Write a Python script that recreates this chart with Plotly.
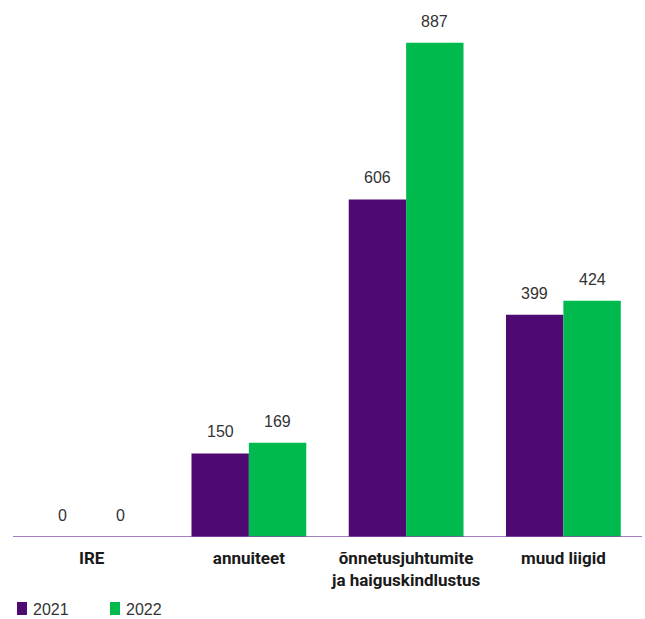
import plotly.graph_objects as go

categories = ["IRE", "annuiteet", "õnnetusjuhtumite<br>ja haiguskindlustus", "muud liigid"]
series_names = ["2021", "2022"]
values_2021 = [0, 150, 606, 399]
values_2022 = [0, 169, 887, 424]

colors = ["#4E0A72", "#00BA4D"]
W, H = 645, 619
L, R, T, B = 13, 3, 20, 82
pw, ph = W - L - R, H - T - B

fig = go.Figure()
bar_half = (pw / len(categories)) * (1 - 0.27) / 4  # half width of one bar in px
for i, (name, vals, col) in enumerate(zip(series_names, [values_2021, values_2022], colors)):
    fig.add_trace(go.Bar(
        x=categories, y=vals, name=name, marker_color=col, marker_line_width=0,
        showlegend=False,
    ))
    shift = -bar_half if i == 0 else bar_half
    for c, v in zip(categories, vals):
        fig.add_annotation(x=c, y=v, text=str(v), showarrow=False, xref="x", yref="y",
                           xshift=shift, yshift=11, yanchor="bottom", xanchor="center",
                           font=dict(family="Liberation Sans", size=16, color="#333333"))

# manual legend
def px_x(x):
    return (x - L) / pw

def px_y(y):
    return (H - B - y) / ph

legend_x = [17, 110]
for name, col, lx in zip(series_names, colors, legend_x):
    fig.add_shape(type="rect", xref="paper", yref="paper",
                  x0=px_x(lx), x1=px_x(lx + 10), y0=px_y(615), y1=px_y(602),
                  fillcolor=col, line_width=0)
    fig.add_annotation(x=px_x(lx + 14), y=px_y(609), xref="paper", yref="paper",
                       text=name, showarrow=False, xanchor="left", yanchor="middle",
                       font=dict(family="Liberation Sans", size=16, color="#333333"))

fig.update_layout(
    width=W, height=H,
    margin=dict(l=L, r=R, t=T, b=B, autoexpand=False),
    paper_bgcolor="white", plot_bgcolor="white",
    barmode="group", bargap=0.27, bargroupgap=0,
    showlegend=False,
    xaxis=dict(showgrid=False, showline=False, ticks="", ticklabelstandoff=9,
               tickfont=dict(family="Roboto", size=17, color="#1a1a1a", weight="bold")),
    yaxis=dict(range=[0, 928], showgrid=False, showticklabels=False, zeroline=False, showline=False),
)
fig.add_shape(type="line", xref="paper", yref="y", x0=0, x1=1, y0=0, y1=0,
              line=dict(color="#8752AE", width=1.5))

fig.write_html("out.html", config={"displayModeBar": False})
with open("out.html", "r", encoding="utf-8") as f:
    html = f.read()
html = html.replace("<head>", "<head><style>html,body{margin:0;padding:0;overflow:hidden}</style>", 1)
with open("out.html", "w", encoding="utf-8") as f:
    f.write(html)
